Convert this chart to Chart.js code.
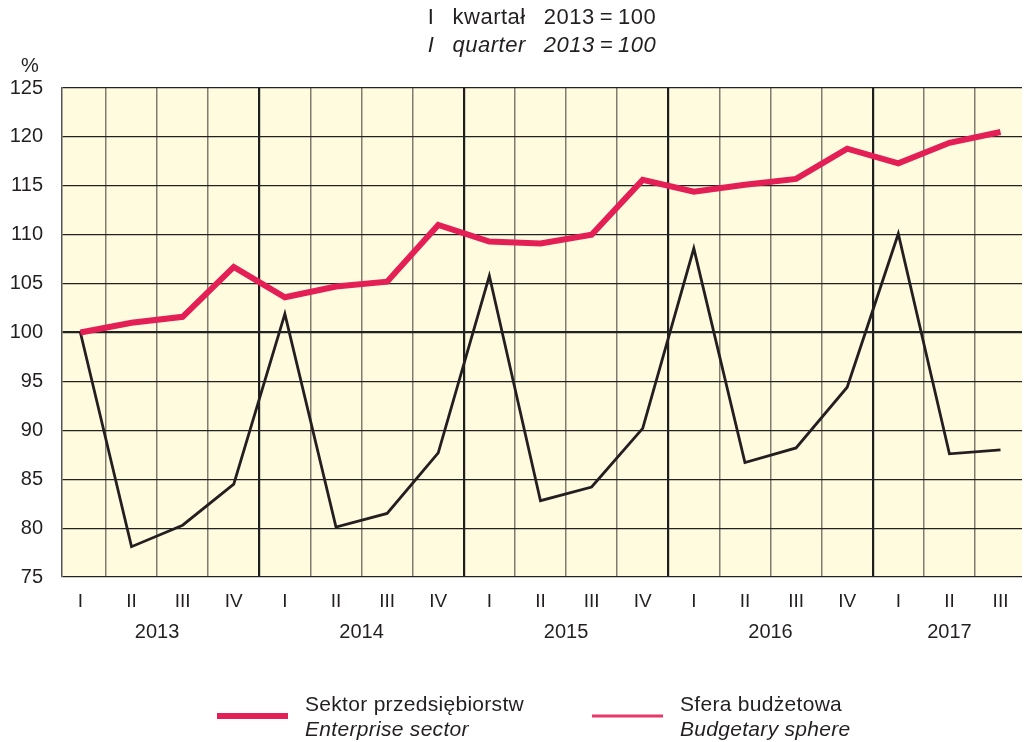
<!DOCTYPE html>
<html>
<head>
<meta charset="utf-8">
<script src="https://cdn.jsdelivr.net/npm/chart.js@4/dist/chart.umd.min.js"></script>
<style>
  html, body { margin: 0; padding: 0; background: #fff; }
  #wrap { width: 1025px; height: 742px; }
</style>
</head>
<body>
<div id="wrap"><canvas id="indexChart" width="1025" height="742"></canvas></div>
<script>
// quarters 2013 I .. 2017 III
const quarterLabels = ['I', 'II', 'III', 'IV', 'I', 'II', 'III', 'IV', 'I', 'II', 'III', 'IV',
    'I', 'II', 'III', 'IV', 'I', 'II', 'III'];
const yearLabels = ['2013', '2014', '2015', '2016', '2017'];
const yearPositions = [1.5, 5.5, 9.5, 13.5, 17];
const yTicks = [75, 80, 85, 90, 95, 100, 105, 110, 115, 120, 125];

const enterprise = [100.0, 101.0, 101.6, 106.7, 103.6, 104.7, 105.2, 111.0, 109.3, 109.1,
    110.0, 115.6, 114.4, 115.1, 115.7, 118.8, 117.3, 119.4, 120.5];
const budgetary = [100.0, 78.1, 80.3, 84.5, 101.9, 80.1, 81.5, 87.7, 105.8, 82.8,
    84.2, 90.2, 108.6, 86.7, 88.2, 94.4, 110.1, 87.6, 88.0];

const seriesNames = [
    ['Sektor przedsiębiorstw', 'Enterprise sector'],
    ['Sfera budżetowa', 'Budgetary sphere']
];
const titleLines = ['I\u2002 kwartał\u2002 2013\u2009=\u2009100', 'I\u2002 quarter\u2002 2013\u2009=\u2009100'];

(function () {
    const font = "'Liberation Sans', Arial, sans-serif";
    const red = '#e31f55';
    const dark = '#231f20';
    const xMin = -0.36, xMax = 18.42;

    function points(arr) {
        return arr.map(function (v, i) { return { x: i, y: v }; });
    }

    // grid between quarters, heavier at year boundaries
    let quarterGrid = [];
    for (let i = 0; i < quarterLabels.length - 1; i++) quarterGrid.push(i + 0.5);
    function isYearLine(v) {
        let idx = v - 0.5;
        return quarterLabels[idx + 1] === 'I';
    }

    let background = {
        id: 'background',
        beforeDraw: function (chart) {
            let a = chart.chartArea, ctx = chart.ctx;
            ctx.save();
            ctx.fillStyle = '#fffbdf';
            ctx.fillRect(a.left, a.top, a.right - a.left, a.bottom - a.top);
            ctx.restore();
        }
    };

    let texts = {
        id: 'texts',
        afterDraw: function (chart) {
            let a = chart.chartArea, ctx = chart.ctx;
            let cx = (a.left + a.right) / 2;
            ctx.save();
            ctx.fillStyle = dark;
            ctx.textBaseline = 'middle';
            ctx.textAlign = 'center';
            ctx.letterSpacing = '0.5px';
            ctx.font = '22px ' + font;
            ctx.fillText(titleLines[0], cx, 18);
            ctx.font = 'italic 22px ' + font;
            ctx.fillText(titleLines[1], cx, 46);
            ctx.letterSpacing = '0px';
            ctx.font = '20px ' + font;
            ctx.fillText('%', 30, 66);

            // legend
            let items = [
                { x: 217, lw: 6, color: red },
                { x: 592, lw: 3, color: '#e8386a' }
            ];
            ctx.letterSpacing = '0.3px';
            items.forEach(function (it, k) {
                ctx.strokeStyle = it.color;
                ctx.lineWidth = it.lw;
                ctx.beginPath();
                ctx.moveTo(it.x, 716);
                ctx.lineTo(it.x + 71, 716);
                ctx.stroke();
                ctx.textAlign = 'left';
                ctx.fillStyle = dark;
                ctx.font = '21px ' + font;
                ctx.fillText(seriesNames[k][0], it.x + 88, 705);
                ctx.font = 'italic 21px ' + font;
                ctx.fillText(seriesNames[k][1], it.x + 88, 730);
            });
            ctx.restore();
        }
    };

    let ctx = document.getElementById('indexChart').getContext('2d');
    let chart = new Chart(ctx, {
        type: 'line',
        data: {
            datasets: [{
                label: seriesNames[0][0],
                data: points(enterprise),
                borderColor: red,
                borderWidth: 6,
                pointRadius: 0,
                tension: 0,
                xAxisID: 'x'
            }, {
                label: seriesNames[1][0],
                data: points(budgetary),
                borderColor: dark,
                borderWidth: 2.8,
                pointRadius: 0,
                tension: 0,
                xAxisID: 'x'
            }]
        },
        options: {
            responsive: false,
            animation: false,
            layout: { padding: { top: 88, right: 3, left: 0, bottom: 0 } },
            plugins: {
                legend: { display: false },
                tooltip: { enabled: false },
                title: { display: false }
            },
            scales: {
                x: {
                    type: 'linear',
                    min: xMin,
                    max: xMax,
                    weight: 0,
                    afterBuildTicks: function (scale) {
                        scale.ticks = quarterGrid.map(function (v) { return { value: v }; });
                    },
                    afterFit: function (scale) { scale.height = 0; },
                    ticks: { display: false },
                    border: { display: false },
                    grid: {
                        drawTicks: false,
                        color: function (c) { return isYearLine(c.tick.value) ? '#1e1e1e' : '#807d70'; },
                        lineWidth: function (c) { return isYearLine(c.tick.value) ? 2.2 : 1.5; }
                    }
                },
                xq: {
                    type: 'linear',
                    position: 'bottom',
                    min: xMin,
                    max: xMax,
                    weight: 1,
                    afterBuildTicks: function (scale) {
                        scale.ticks = quarterLabels.map(function (l, i) { return { value: i }; });
                    },
                    afterFit: function (scale) { scale.height = 36; },
                    border: { display: false },
                    grid: { display: false, drawTicks: false },
                    ticks: {
                        autoSkip: false,
                        maxRotation: 0,
                        padding: 13,
                        color: dark,
                        font: { family: font, size: 19 },
                        callback: function (v) { return quarterLabels[v]; }
                    }
                },
                xy: {
                    type: 'linear',
                    position: 'bottom',
                    min: xMin,
                    max: xMax,
                    weight: 2,
                    afterBuildTicks: function (scale) {
                        scale.ticks = yearPositions.map(function (v) { return { value: v }; });
                    },
                    afterFit: function (scale) { scale.height = 129; },
                    border: { display: false },
                    grid: { display: false, drawTicks: false },
                    ticks: {
                        autoSkip: false,
                        maxRotation: 0,
                        padding: 7,
                        color: dark,
                        font: { family: font, size: 20 },
                        callback: function (v) { return yearLabels[yearPositions.indexOf(v)]; }
                    }
                },
                y: {
                    min: 75,
                    max: 125,
                    afterBuildTicks: function (scale) {
                        scale.ticks = yTicks.map(function (v) { return { value: v }; });
                    },
                    afterFit: function (scale) { scale.width = 62; },
                    border: { display: true, color: '#555', width: 1.5 },
                    grid: {
                        drawTicks: false,
                        color: '#222',
                        lineWidth: function (c) { return c.tick.value === 100 ? 2.2 : 1.2; }
                    },
                    ticks: {
                        padding: 19,
                        color: dark,
                        font: { family: font, size: 20 }
                    }
                }
            }
        },
        plugins: [background, texts]
    });
})();
</script>
</body>
</html>
